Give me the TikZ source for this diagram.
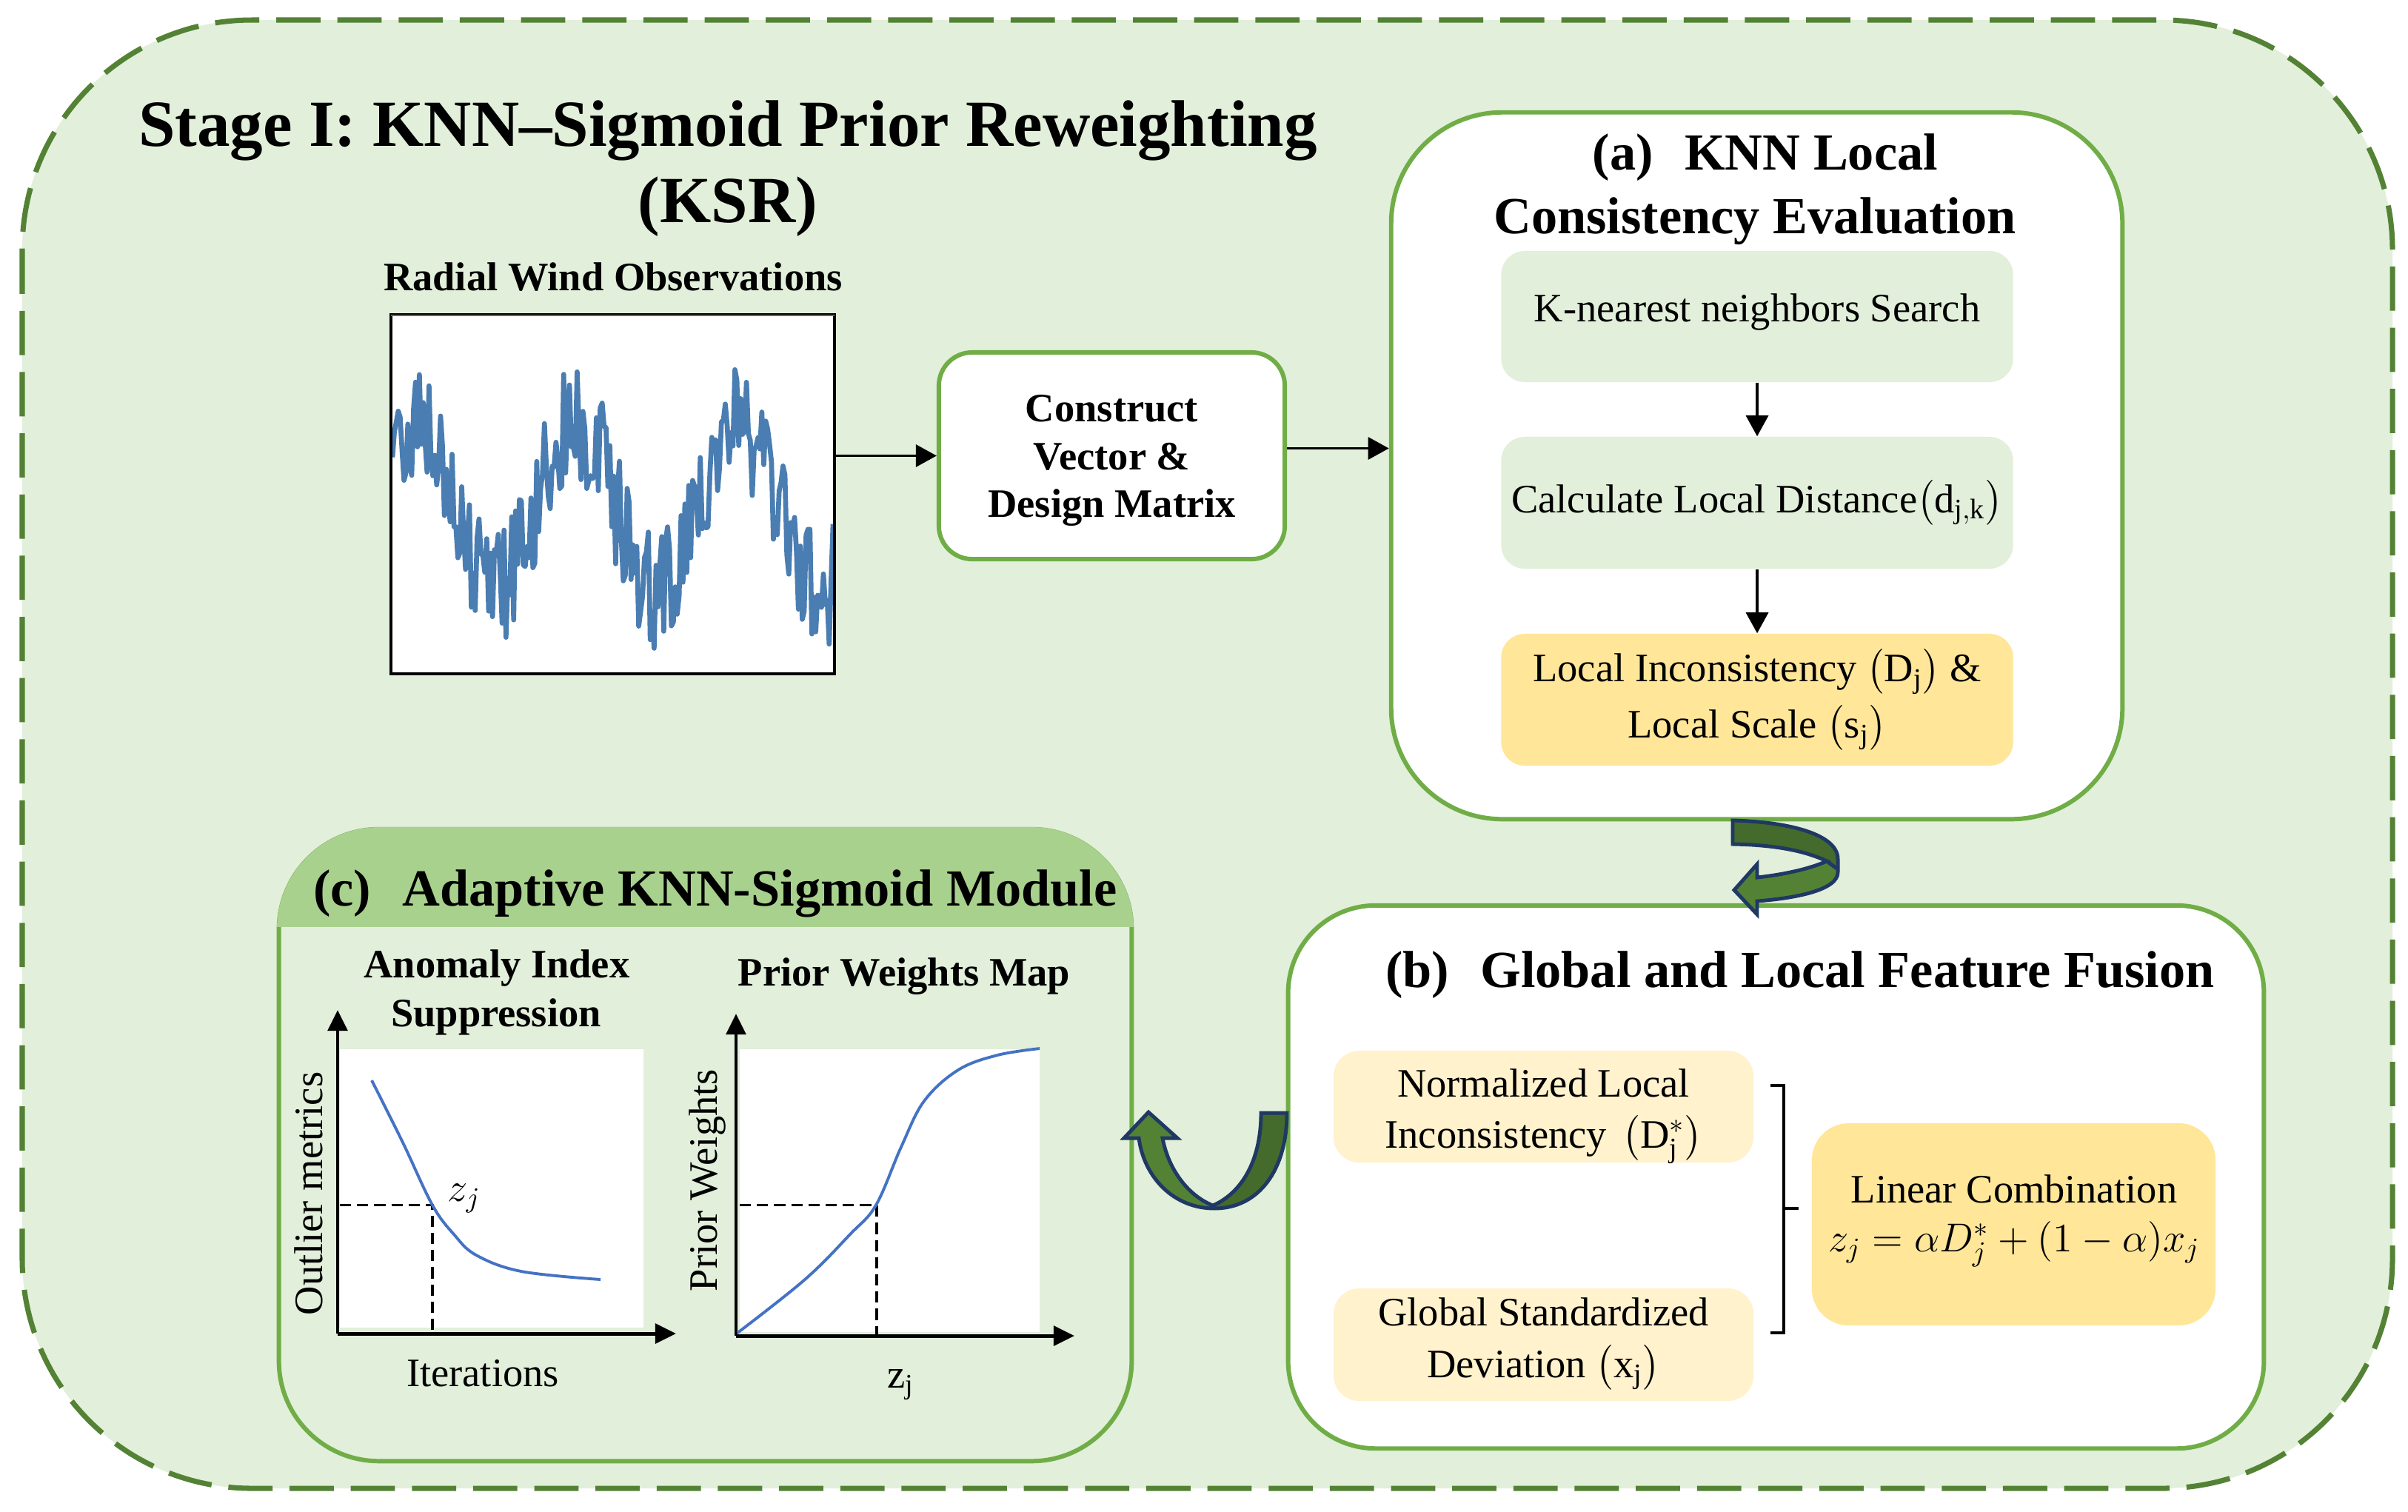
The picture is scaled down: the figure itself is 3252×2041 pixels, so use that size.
\RequirePackage{fix-cm}
\documentclass[tikz,border=0pt]{standalone}
\usepackage{amsmath}
\usepackage{fontspec}
\setmainfont{Liberation Serif}
\usetikzlibrary{arrows.meta}
\definecolor{bg}{HTML}{E2EFDA}
\definecolor{dashgreen}{HTML}{548235}
\definecolor{boxgreen}{HTML}{70AD47}
\definecolor{headgreen}{HTML}{A9D18E}
\definecolor{yelA}{HTML}{FFE699}
\definecolor{yelB}{HTML}{FFF2CC}
\definecolor{navyline}{HTML}{1F3864}
\definecolor{darkg}{HTML}{446A2C}
\definecolor{midg}{HTML}{548235}
\definecolor{wavecol}{HTML}{4A7DB2}
\definecolor{curvecol}{HTML}{4472C4}
\newcommand{\myBody}{\fontsize{15.5}{19}\selectfont}
\newcommand{\mySec}{\fontsize{20}{24.5}\selectfont\bfseries}
\newcommand{\myTitle}{\fontsize{25.3}{30}\selectfont\bfseries}
\tikzset{
  bigbox/.style={draw=boxgreen, line width=1.7pt, fill=white, inner sep=0pt},
  inbox/.style={inner sep=0pt, align=center, font=\myBody},
  arr/.style={line width=1.1pt, -{Triangle[length=8pt,width=8.5pt]}},
  axisarr/.style={line width=1.4pt, -{Triangle[length=8pt,width=7.5pt]}},
  dashln/.style={line width=0.9pt, dash pattern=on 4.3pt off 2.3pt},
  uarrow/.style={draw=navyline, line width=1.4pt, line join=miter},
  lbl/.style={inner sep=0pt, font=\myBody},
  btxt/.style={inner sep=0pt, font=\myBody, anchor=base},
}
\begin{document}
\begin{tikzpicture}[x=0.01cm,y=-0.01cm]
\useasboundingbox (0,0) rectangle (3252,2041);
\fill[white] (0,0) rectangle (3252,2041);
% outer dashed frame
\draw[dashgreen, line width=2pt, dash pattern=on 17pt off 6.5pt, fill=bg, rounded corners=3.1cm] (30,27) rectangle (3231,2010);

% titles
\node[font=\myTitle, anchor=base, inner sep=0pt] (title1) at (983,197) {Stage I: KNN--Sigmoid Prior Reweighting};
\node[font=\myTitle, anchor=base, inner sep=0pt] (title2) at (983,300) {(KSR)};
\node[font=\myBody\bfseries, anchor=base, inner sep=0pt] (obstitle) at (828,392) {Radial Wind Observations};

% observation plot
\node[draw=black, line width=1pt, fill=white, minimum width=5.99cm, minimum height=4.85cm, inner sep=0pt] (obs) at (827.5,667.5) {};
\draw[line width=0.6pt, black!60] (528,426) -- (1127,426);
\begin{scope}
\clip (530,427) rectangle (1125,908);
\pgfmathsetseed{11}
\draw[wavecol, line width=1.9pt, line join=round] plot[domain=530:1125, samples=230] (\x, {686-112*sin(((\x-506)/218)*360)+82*rand});
\end{scope}

% construct box
\node[bigbox, minimum width=4.67cm, minimum height=2.79cm, rounded corners=0.45cm] (cons) at (1501.5,615.5) {};
\node[btxt, font=\myBody\bfseries] (cons1) at (1501.5,569) {Construct};
\node[btxt, font=\myBody\bfseries] (cons2) at (1501.5,634) {Vector \&};
\node[btxt, font=\myBody\bfseries] (cons3) at (1501.5,698) {Design Matrix};
\draw[arr] (obs.east |- cons.west) -- (cons.west);

% (a) box
\node[bigbox, minimum width=9.87cm, minimum height=9.54cm, rounded corners=1.5cm] (boxa) at (2372.5,629) {};
\draw[arr] ([yshift=0.1cm]cons.east) -- ([yshift=0.1cm]cons.east -| boxa.west);
\node[font=\mySec, anchor=base, inner sep=0pt] (atitle1) at (2384,229) {(a)\hspace{0.6em}KNN Local};
\node[font=\mySec, anchor=base, inner sep=0pt] (atitle2) at (2370,315) {Consistency Evaluation};
\node[inbox, fill=bg, minimum width=6.91cm, minimum height=1.77cm, rounded corners=0.32cm] (knn) at (2373,427.5) {K-nearest neighbors Search\rule[-6.8pt]{0pt}{1pt}};
\node[inbox, fill=bg, minimum width=6.91cm, minimum height=1.78cm, rounded corners=0.32cm] (dist) at (2373,679) {Calculate Local Distance$\bigl(\mathrm{d_{j,k}}\bigr)$};
\node[inbox, fill=yelA, minimum width=6.91cm, minimum height=1.78cm, rounded corners=0.32cm, font=\fontsize{15.5}{21.5}\selectfont] (incon) at (2373,945) {Local Inconsistency $\bigl(\mathrm{D_j}\bigr)$ \&\\Local Scale $\bigl(\mathrm{s_j}\bigr)$};
\draw[arr] (knn.south) -- (dist.north);
\draw[arr] (dist.south) -- (incon.north);

% (b) box
\node[bigbox, minimum width=13.17cm, minimum height=7.33cm, rounded corners=1.18cm] (boxb) at (2398.5,1589.5) {};
\node[font=\mySec, anchor=base, inner sep=0pt] (btitle) at (2431,1333) {(b)\hspace{0.6em}Global and Local Feature Fusion};
\node[inbox, fill=yelB, minimum width=5.67cm, minimum height=1.51cm, rounded corners=0.35cm] (norm) at (2084.5,1494.5) {};
\node[btxt] (norm1) at (2084.5,1481) {Normalized Local};
\node[btxt] (norm2) at (2084.5,1550) {Inconsistency\hspace{0.4em}$\bigl(\mathrm{D_j^{*}}\bigr)$};
\node[inbox, fill=yelB, minimum width=5.67cm, minimum height=1.52cm, rounded corners=0.35cm, font=\fontsize{15.5}{20}\selectfont] (glob) at (2084.5,1816) {Global Standardized\\Deviation $\bigl(\mathrm{x_j}\bigr)$};
\node[inbox, fill=yelA, minimum width=5.45cm, minimum height=2.73cm, rounded corners=0.5cm] (lin) at (2719.5,1653.5) {};
\node[btxt] (lin1) at (2720,1624) {Linear Combination};
\node[btxt] (lin2) at (2720,1690) {$z_j=\alpha D_j^{*}+(1-\alpha)x_j$};
% bracket
\coordinate (brt) at (2409,1466);
\coordinate (brb) at (2409,1800);
\coordinate (brm) at (2409,1632);
\draw[line width=1.1pt] ([xshift=-0.18cm]brt) -- (brt) -- (brb) -- ([xshift=-0.18cm]brb);
\draw[line width=1.1pt] (brm) -- ([xshift=0.2cm]brm);

% (c) box
\node[draw=boxgreen, line width=1.7pt, fill=bg, minimum width=11.51cm, minimum height=8.53cm, rounded corners=1.35cm, inner sep=0pt] (boxc) at (952.5,1546.5) {};
\begin{scope}
\clip[rounded corners=1.38cm] (374,1117) rectangle (1531,1976);
\fill[headgreen] (360,1100) rectangle (1545,1252);
\end{scope}
\node[font=\mySec, anchor=base, inner sep=0pt] (ctitle) at (966,1223) {(c)\hspace{0.6em}Adaptive KNN-Sigmoid Module};
\node[lbl, font=\myBody\bfseries, anchor=base] (sub1a) at (671,1320) {Anomaly Index};
\node[lbl, font=\myBody\bfseries, anchor=base] (sub1b) at (670,1386) {Suppression};
\node[lbl, font=\myBody\bfseries, anchor=base] (sub2) at (1221,1331) {Prior Weights Map};

% left plot
\fill[white] (459,1417) rectangle (869,1793);
\coordinate (o1) at (456,1801);
\coordinate (y1) at (456,1364);
\coordinate (x1) at (913,1801);
\draw[axisarr] (o1) -- (y1);
\draw[axisarr] (o1) -- (x1);
\draw[dashln] (459,1627.5) -- (584,1627.5) -- (584,1801);
\draw[curvecol, line width=1.1pt] plot[smooth, tension=0.6] coordinates {(502,1459) (544,1543) (584,1627.5) (613,1667) (643,1695) (704,1717) (811,1728)};
\node[lbl, anchor=base west] (zl) at (604,1622) {$z_j$};
\node[lbl, rotate=90, anchor=base] (ylab1) at (435,1612) {Outlier metrics};
\node[lbl, anchor=base] (xlab1) at (652,1872) {Iterations};

% right plot
\fill[white] (999,1417) rectangle (1404,1799);
\coordinate (o2) at (994,1804);
\coordinate (y2) at (994,1369);
\coordinate (x2) at (1451,1804);
\draw[axisarr] (o2) -- (y2);
\draw[axisarr] (o2) -- (x2);
\draw[dashln] (999,1627.5) -- (1184,1627.5) -- (1184,1804);
\draw[curvecol, line width=1.1pt] plot[smooth, tension=0.6] coordinates {(996,1800) (1087,1728) (1148,1667) (1183,1627.5) (1217,1549) (1248,1487) (1294,1445) (1347,1425) (1404,1416)};
\node[lbl, rotate=90, anchor=base] (ylab2) at (968,1594) {Prior Weights};
\node[lbl, anchor=base] (xlab2) at (1217,1874) {$\mathrm{z_j}$};

% U-turn arrow between (a) and (b)
\fill[midg] (2340,1108) .. controls (2420,1110) and (2482,1128) .. (2482,1160) -- (2482,1178) .. controls (2482,1202) and (2425,1213) .. (2373,1217) -- (2373,1235) -- (2342,1202) -- (2373,1167) -- (2373,1185) .. controls (2410,1181) and (2445,1173) .. (2467,1163) .. controls (2440,1150) and (2400,1141) .. (2340,1140) -- cycle;
\fill[darkg] (2340,1108) .. controls (2420,1110) and (2482,1128) .. (2482,1160) -- (2482,1174) -- (2467,1163) .. controls (2440,1150) and (2400,1141) .. (2340,1140) -- cycle;
\draw[uarrow] (2340,1108) .. controls (2420,1110) and (2482,1128) .. (2482,1160) -- (2482,1178) .. controls (2482,1202) and (2425,1213) .. (2373,1217) -- (2373,1235) -- (2342,1202) -- (2373,1167) -- (2373,1185) .. controls (2410,1181) and (2445,1173) .. (2467,1163) .. controls (2440,1150) and (2400,1141) .. (2340,1140) -- cycle;
\draw[uarrow] (2467,1163) -- (2482,1174);

% U arrow between (b) and (c)
\fill[midg] (1738,1503) .. controls (1738,1580) and (1700,1632) .. (1640,1632) .. controls (1585,1632) and (1545,1590) .. (1538,1537) -- (1518,1537) -- (1551,1502) -- (1590,1537) -- (1570,1537) .. controls (1578,1580) and (1605,1615) .. (1638,1628) .. controls (1675,1612) and (1703,1570) .. (1703,1503) -- cycle;
\fill[darkg] (1738,1503) .. controls (1738,1580) and (1700,1632) .. (1640,1632) -- (1638,1628) .. controls (1675,1612) and (1703,1570) .. (1703,1503) -- cycle;
\draw[uarrow] (1738,1503) .. controls (1738,1580) and (1700,1632) .. (1640,1632) .. controls (1585,1632) and (1545,1590) .. (1538,1537) -- (1518,1537) -- (1551,1502) -- (1590,1537) -- (1570,1537) .. controls (1578,1580) and (1605,1615) .. (1638,1628) .. controls (1675,1612) and (1703,1570) .. (1703,1503) -- cycle;
\end{tikzpicture}
\end{document}
